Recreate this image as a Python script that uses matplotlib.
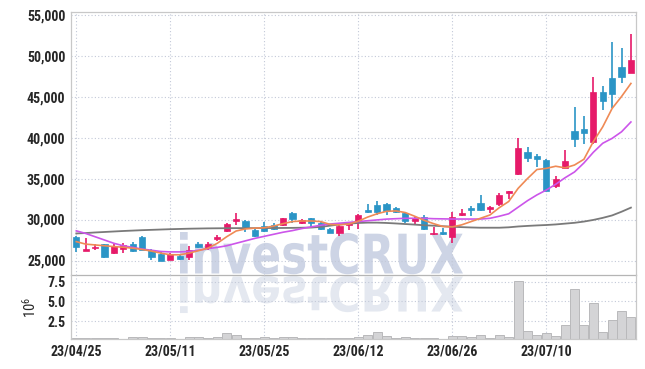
import matplotlib
matplotlib.use("Agg")
import matplotlib.pyplot as plt
import numpy as np
from matplotlib import font_manager
from matplotlib.textpath import TextPath
from matplotlib.patches import PathPatch
from matplotlib.font_manager import FontProperties
from matplotlib.transforms import Affine2D
from matplotlib.ticker import FuncFormatter

# daily candles
opens = [27890, 26150, 26500, 26990, 25935, 26460, 27070, 27890, 26340, 25850,
         25120, 25570, 25450, 27000, 26480, 27620, 28640, 29820, 29820, 28720,
         29210, 29330, 29330, 30750, 29610, 30140, 29530, 28800, 28310, 29330,
         29740, 31160, 31770, 31890, 31360, 30750, 29820, 30350, 28190, 28520,
         27910, 30550, 31360, 32050, 31280, 31890, 33190, 35550, 38190, 37740,
         37260, 34100, 36240, 40830, 41080, 39490, 45590, 47260, 48600, 47830]
highs = [28050, 27750, 27000, 27050, 27070, 27150, 27280, 27970, 26460, 26060,
         25930, 25850, 26750, 27300, 27300, 28110, 29530, 30750, 29940, 28920,
         29740, 29530, 30220, 30870, 30020, 30220, 29650, 28920, 29330, 29740,
         30670, 31850, 32260, 31970, 31480, 30920, 30350, 30550, 29050, 28920,
         30960, 31300, 31650, 32990, 31650, 33270, 33520, 39900, 38800, 37950,
         37340, 35250, 38480, 43680, 42660, 47420, 46320, 51600, 50870, 52580]
lows = [26060, 26100, 26260, 25360, 25850, 25940, 26060, 26260, 25120, 24960,
        25040, 25120, 25120, 26470, 26280, 27420, 28520, 29330, 28520, 27910,
        28520, 28720, 29250, 29530, 29410, 29130, 28680, 28310, 27990, 28720,
        28800, 30750, 30550, 30550, 30830, 29530, 29330, 28720, 28110, 28110,
        27090, 30470, 30470, 31080, 30750, 31650, 32460, 35430, 37050, 36360,
        33520, 33850, 36160, 38800, 39210, 39210, 43350, 43560, 46610, 47830]
closes = [26670, 26380, 26670, 25450, 26750, 26950, 26180, 26340, 25450, 24960,
          25850, 25200, 26260, 26680, 27010, 27820, 29410, 30020, 29130, 28030,
          28640, 28800, 30140, 30060, 29940, 29530, 28800, 28390, 29250, 29650,
          30550, 30960, 30960, 31080, 30960, 29820, 30220, 28840, 28390, 28270,
          30350, 30750, 31160, 31160, 31480, 32990, 33520, 38680, 37540, 37420,
          33520, 34920, 37180, 39860, 40590, 45550, 44490, 45350, 47420, 49450]

# volume in millions of shares
volume = [0.4, 0.4, 0.4, 0.4, 0.4, 0.15, 0.45, 0.5, 0.4, 0.4,
          0.4, 0.15, 0.5, 0.5, 0.4, 0.5, 0.96, 0.71, 0.4, 0.35,
          0.5, 0.4, 0.55, 0.45, 0.4, 0.4, 0.4, 0.4, 0.4, 0.4,
          0.45, 0.79, 1.08, 0.58, 0.4, 0.45, 0.4, 0.4, 0.4, 0.15,
          0.67, 0.58, 0.46, 0.79, 0.4, 0.79, 0.54, 7.58, 1.29, 0.79,
          1.04, 0.67, 2.04, 6.54, 2.04, 4.79, 1.17, 2.67, 3.79, 3.04]

# moving average lines as drawn
ma_short = [27300, 27000, 26900, 26800, 26700, 26620, 26500, 26350, 26150, 25900,
            25700, 25700, 25900, 26200, 26500, 27100, 27900, 28600, 28850, 28950,
            29000, 29200, 29500, 29750, 29820, 29820, 29750, 29400, 29350, 29450,
            29800, 30300, 30700, 31000, 31050, 30850, 30400, 29900, 29500, 29150,
            29100, 29350, 29750, 30150, 30550, 31450, 32200, 33800, 35000, 36100,
            36240, 36500, 36300, 36650, 37350, 39500, 41300, 43550, 45000, 46600]
ma_mid = [28620, 28300, 27900, 27500, 27100, 26800, 26600, 26400, 26250, 26100,
          26050, 26050, 26100, 26250, 26450, 26600, 26800, 27100, 27400, 27700,
          27950, 28200, 28450, 28650, 28900, 29100, 29300, 29450, 29550, 29650,
          29750, 29850, 29950, 30050, 30100, 30150, 30150, 30150, 30100, 30080,
          30060, 30060, 30060, 30060, 30150, 30400, 30700, 31500, 32300, 33000,
          33600, 34300, 35100, 35800, 36900, 38200, 39300, 39900, 40700, 41900]
ma_long = [28300, 28350, 28420, 28480, 28540, 28600, 28650, 28700, 28740, 28780,
           28820, 28850, 28880, 28900, 28920, 28930, 28940, 28950, 28950, 28950,
           28960, 28960, 28970, 28980, 29000, 29020, 29100, 29250, 29400, 29500,
           29580, 29620, 29620, 29580, 29520, 29450, 29380, 29300, 29250, 29180,
           29120, 29070, 29030, 29000, 29000, 29000, 29050, 29150, 29220, 29280,
           29330, 29400, 29500, 29600, 29750, 29950, 30200, 30500, 30950, 31450]

tick_pos = [0, 10, 20, 30, 40, 50]
tick_labels = ["23/04/25", "23/05/11", "23/05/25", "23/06/12", "23/06/26", "23/07/10"]

UP = "#e61a69"
DOWN = "#2b95c6"
GRID = "#c3c9d8"
SPINE = "#c8c8c8"
TEXT = "#262626"

names = {f.name for f in font_manager.fontManager.ttflist}
label_font = "DejaVu Sans"
for cand in ["Roboto Condensed", "Liberation Sans Narrow", "DejaVu Sans Condensed"]:
    if cand in names:
        label_font = cand
        break
plt.rcParams["font.family"] = [label_font, "DejaVu Sans"]
plt.rcParams["font.weight"] = "bold"

fig = plt.figure(figsize=(6.45, 3.69), dpi=100)
ax = fig.add_axes([0.1101, 0.2547, 0.8755, 0.712])
axv = fig.add_axes([0.1101, 0.0805, 0.8755, 0.1743], sharex=ax)

x = np.arange(len(opens))
o = np.array(opens)
c = np.array(closes)
up = c >= o
colors = np.where(up, UP, DOWN)

# watermark with its reflection, behind the axes
tp = TextPath((0, 0), "investCRUX", size=1,
              prop=FontProperties(family="DejaVu Sans", weight="bold"))
ext = tp.get_extents()
sx = (463 - 180) / ext.width
sy = 41.5 / ext.ymax
tr = Affine2D().translate(-ext.x0, 0).scale(sx, sy).translate(180, 95.5)
fig.add_artist(PathPatch(tp, transform=tr, facecolor="#cdd4e5",
                         edgecolor="none", zorder=-1))
tr2 = Affine2D().translate(-ext.x0, 0).scale(sx, -sy * 0.88).translate(180, 92.5)
fig.add_artist(PathPatch(tp, transform=tr2, facecolor="#e4e8f0",
                         edgecolor="none", zorder=-1))

for a in (ax, axv):
    a.set_facecolor("none")
    a.grid(True, color=GRID, linestyle=(0, (1, 2)), linewidth=0.8)
    a.set_axisbelow(True)
    a.tick_params(length=0, labelsize=10, labelcolor=TEXT, pad=4)
    for s in a.spines.values():
        s.set_color(SPINE)
        s.set_linewidth(0.9)

# candles
ax.vlines(x, lows, highs, colors=colors, linewidth=1.2, zorder=2)
body_low = np.minimum(o, c)
body_h = np.maximum(np.abs(c - o), 90)
ax.bar(x, body_h, bottom=body_low, width=0.66, color=colors,
       edgecolor=colors, linewidth=0.5, zorder=3)

ax.plot(x, ma_long, color="#7a7a7a", linewidth=1.3, zorder=4)
ax.plot(x, ma_mid, color="#cc55ea", linewidth=1.2, zorder=4)
ax.plot(x, ma_short, color="#ef8a55", linewidth=1.2, zorder=4)

ax.set_xlim(-0.56, 59.51)
ax.set_ylim(23230, 55280)
ax.set_yticks(np.arange(25000, 55001, 5000))
ax.yaxis.set_major_formatter(FuncFormatter(lambda v, p: f"{int(v):,}"))
ax.spines["bottom"].set_color("#b5b5b5")
ax.tick_params(axis="x", labelbottom=False)

axv.bar(x, volume, width=0.95, color="#d4d4d6", edgecolor="#b9b9bb",
        linewidth=0.7, zorder=2)
axv.set_ylim(0.2, 8.34)
axv.set_yticks([2.5, 5.0, 7.5])
axv.yaxis.set_major_formatter(FuncFormatter(lambda v, p: f"{v:.1f}"))
axv.spines["top"].set_visible(False)
axv.set_xticks(tick_pos)
axv.set_xticklabels(tick_labels)
axv.set_ylabel(r"$\mathregular{10^6}$", fontsize=10.5, color=TEXT,
               fontweight="normal", labelpad=6)

fig.savefig("out.png", dpi=100)
